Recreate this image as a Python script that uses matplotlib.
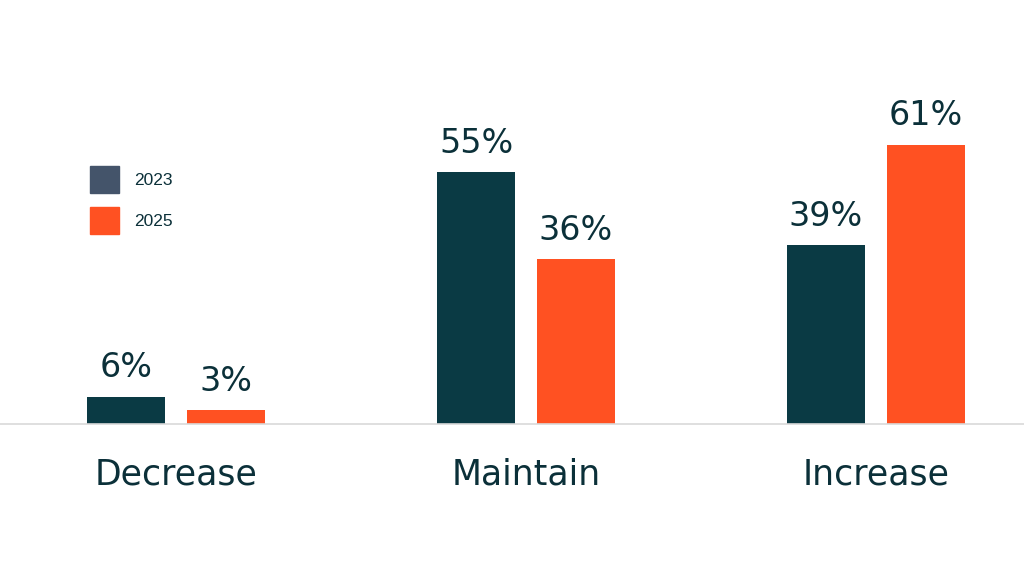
import numpy as np
import matplotlib.pyplot as plt
from matplotlib.patches import Patch

categories = ['Decrease', 'Maintain', 'Increase']
values_2023 = [6, 55, 39]
values_2025 = [3, 36, 61]
series_labels = ['2023', '2025']

dark = '#0a3a44'
orange = '#ff5122'
legend_dark = '#44546a'
text_color = '#0b3039'

fig = plt.figure(figsize=(10.24, 5.86), dpi=100)
ax = fig.add_axes([0, 162 / 586, 1, 424 / 586])

x = np.arange(len(categories))
off = 50 / 350
w = 78 / 350
b1 = ax.bar(x - off, values_2023, w, color=dark)
b2 = ax.bar(x + off, values_2025, w, color=orange)

for bars in (b1, b2):
    for rect in bars:
        ax.annotate(f'{rect.get_height():.0f}%',
                    (rect.get_x() + rect.get_width() / 2, rect.get_height()),
                    xytext=(0, 9), textcoords='offset points',
                    ha='center', va='bottom', fontsize=24, color=text_color)

ax.set_xlim(-176 / 350, (1024 - 176) / 350)
ax.set_ylim(0, 424 / 4.58)
ax.set_xticks(x)
ax.set_xticklabels(categories, fontsize=25, color=text_color)
ax.tick_params(axis='x', length=0, pad=24)
ax.set_yticks([])
for s in ['top', 'right', 'left']:
    ax.spines[s].set_visible(False)
ax.spines['bottom'].set_color('#d9d9d9')
ax.spines['bottom'].set_linewidth(1.2)

handles = [Patch(color=legend_dark), Patch(color=orange)]
ax.legend(handles, series_labels, loc='upper left', bbox_to_anchor=(0.073, 0.645),
          frameon=False, prop={'family': 'Liberation Sans', 'size': 12.5},
          handlelength=1.67, handleheight=2.0, labelspacing=0.8,
          handletextpad=0.85, labelcolor=text_color)

fig.savefig('out.png', dpi=100)
